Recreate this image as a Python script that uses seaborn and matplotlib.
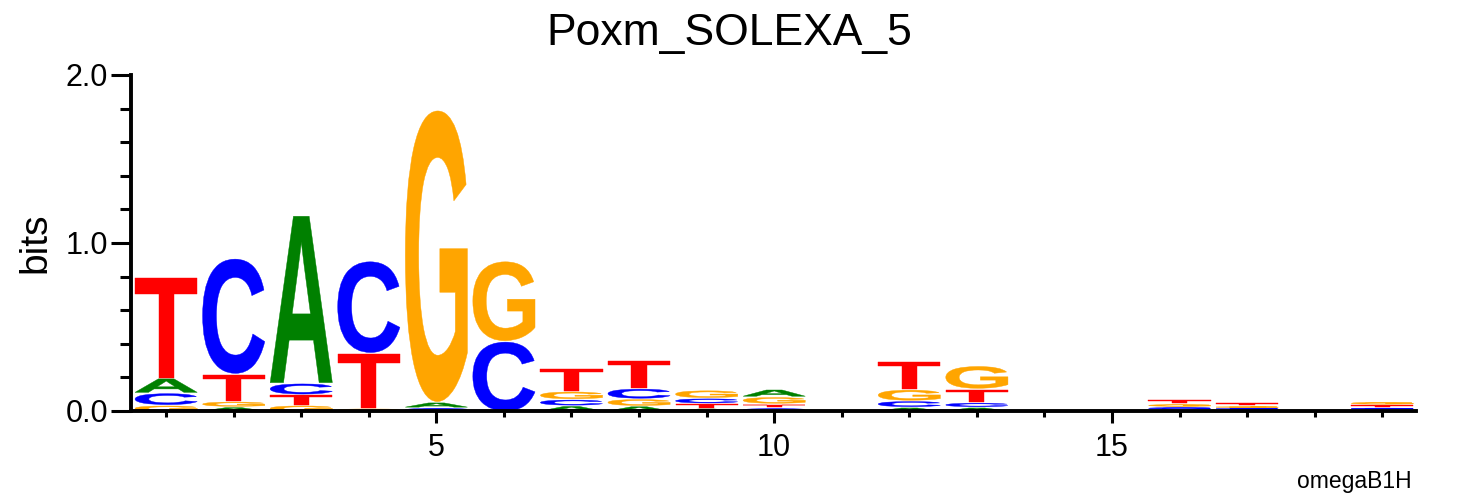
import numpy as np
import matplotlib.pyplot as plt
import seaborn as sns
from matplotlib.textpath import TextPath
from matplotlib.font_manager import FontProperties
from matplotlib.patches import PathPatch
from matplotlib.transforms import Affine2D
from matplotlib.ticker import MultipleLocator, FormatStrFormatter

sns.set_style("ticks")
plt.rcParams['font.family'] = ['Liberation Sans', 'DejaVu Sans']
for k in ['text.color', 'axes.labelcolor', 'xtick.color', 'ytick.color', 'axes.edgecolor']:
    plt.rcParams[k] = 'black'

# information content (bits) per letter, positions 1..19
positions = list(range(1, 20))
bits_A = [0.080, 0.020, 0.990, 0.000, 0.025, 0.000, 0.027, 0.025, 0.012, 0.037,
          0.0, 0.018, 0.018, 0.0, 0.0, 0.004, 0.003, 0.0, 0.004]
bits_C = [0.065, 0.680, 0.060, 0.540, 0.015, 0.410, 0.030, 0.054, 0.024, 0.014,
          0.0, 0.030, 0.020, 0.0, 0.0, 0.008, 0.003, 0.0, 0.005]
bits_G = [0.030, 0.025, 0.030, 0.012, 1.730, 0.470, 0.040, 0.035, 0.040, 0.034,
          0.0, 0.060, 0.130, 0.0, 0.0, 0.010, 0.003, 0.0, 0.010]
bits_T = [0.590, 0.155, 0.055, 0.320, 0.000, 0.000, 0.130, 0.160, 0.020, 0.016,
          0.0, 0.160, 0.073, 0.0, 0.0, 0.018, 0.013, 0.0, 0.008]

colors = {'A': '#008000', 'C': '#0000ff', 'G': '#ffa500', 'T': '#ff0000'}
heights = {'A': bits_A, 'C': bits_C, 'G': bits_G, 'T': bits_T}

fig = plt.figure(figsize=(14.63, 4.96), dpi=100)
ax = fig.add_axes([131/1463, 1-411/496, (1416-131)/1463, (411-75)/496])

fp = FontProperties(family='Liberation Sans', weight='bold')

def draw_letter(ax, ch, x, y0, h, width=0.92):
    tp = TextPath((0, 0), ch, size=1, prop=fp)
    bb = tp.get_extents()
    tr = (Affine2D().translate(-bb.x0, -bb.y0)
          .scale(width / bb.width, h / bb.height)
          .translate(x - width / 2, y0))
    ax.add_patch(PathPatch(tr.transform_path(tp), fc=colors[ch], ec=colors[ch], lw=0.3))

gap = 0.008
for i, pos in enumerate(positions):
    stack = sorted((heights[ch][i], ch) for ch in 'ACGT')
    y = 0.0
    for h, ch in stack:
        if h <= 0:
            continue
        draw_letter(ax, ch, pos, y, h)
        y += h + gap

ax.set_xlim(0.48, 19.5)
ax.set_ylim(0, 2)
sns.despine(ax=ax)
for s in ['left', 'bottom']:
    ax.spines[s].set_linewidth(2.8)

ax.xaxis.set_major_locator(MultipleLocator(5))
ax.xaxis.set_minor_locator(MultipleLocator(1))
ax.yaxis.set_major_locator(MultipleLocator(1))
ax.yaxis.set_minor_locator(MultipleLocator(0.2))
ax.yaxis.set_major_formatter(FormatStrFormatter('%.1f'))
ax.tick_params(axis='x', which='major', length=8.6, width=2.2, labelsize=22, pad=7)
ax.tick_params(axis='x', which='minor', length=4.5, width=2.2)
ax.tick_params(axis='y', which='major', length=14.4, width=2.2, labelsize=22, pad=2)
ax.tick_params(axis='y', which='minor', length=8, width=2.2)

fig.text(35/1463, 1-243/496, 'bits', rotation=90, ha='center', va='center', fontsize=28)
fig.text(0.4986, 1-45/496, 'Poxm_SOLEXA_5', ha='center', va='baseline', fontsize=32)
fig.text(1412/1463, 1-488/496, 'omegaB1H', ha='right', va='baseline', fontsize=16.5)

fig.savefig('out.png', dpi=100)
